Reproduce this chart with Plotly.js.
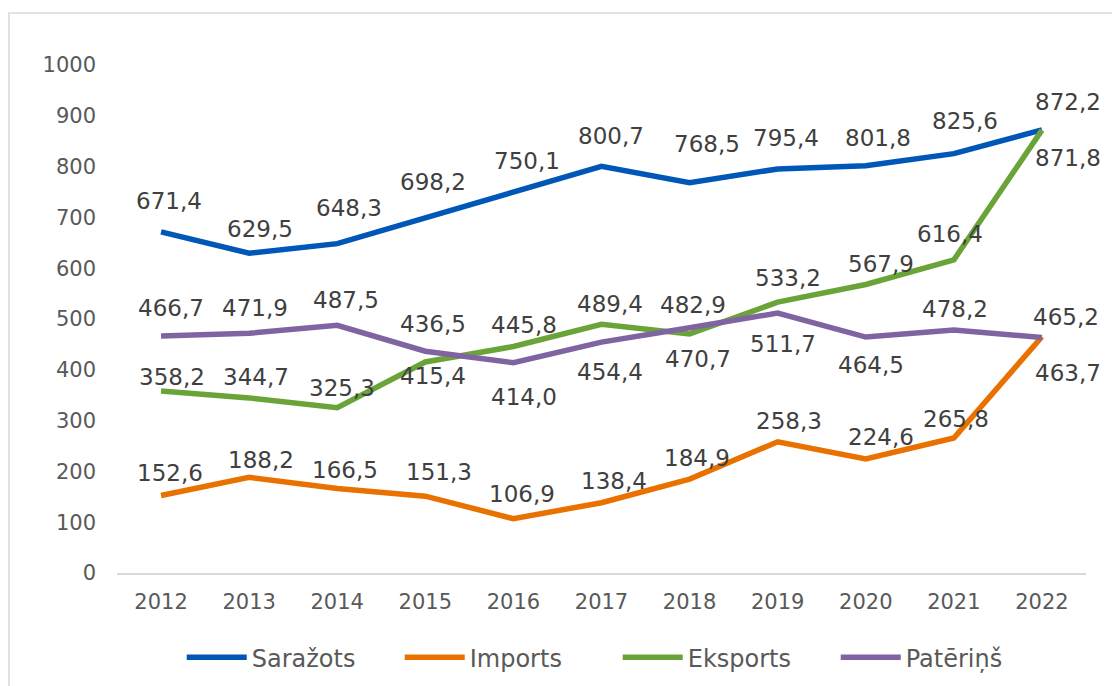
<!DOCTYPE html>
<html>
<head>
<meta charset="utf-8">
<script src="https://cdn.plot.ly/plotly-3.0.1.min.js"></script>
<style>
  html, body { margin: 0; padding: 0; background: #ffffff; }
  #chart { width: 1112px; height: 686px; }
</style>
</head>
<body>
<div id="chart"></div>
<script>
// ---- data ----
var years = ['2012', '2013', '2014', '2015', '2016', '2017', '2018', '2019', '2020', '2021', '2022'];
var sarazots = [671.4, 629.5, 648.3, 698.2, 750.1, 800.7, 768.5, 795.4, 801.8, 825.6, 872.2];
var imports  = [152.6, 188.2, 166.5, 151.3, 106.9, 138.4, 184.9, 258.3, 224.6, 265.8, 465.2];
var eksports = [358.2, 344.7, 325.3, 415.4, 445.8, 489.4, 470.7, 533.2, 567.9, 616.4, 871.8];
var paterins = [466.7, 471.9, 487.5, 436.5, 414.0, 454.4, 482.9, 511.7, 464.5, 478.2, 463.7];
var seriesNames = ['Saražots', 'Imports', 'Eksports', 'Patēriņš'];
var yTickVals = [0, 100, 200, 300, 400, 500, 600, 700, 800, 900, 1000];

// ---- label placement (pixel offsets from each point; positive dy = down) ----
var sarazotsDx = [8, 11, 12, 8, 14, 9, 17, 8, 12, 11, 26];
var sarazotsDy = [-31, -24, -36, -36, -31, -30, -39, -31, -28, -33, -28];
var importsDx  = [9, 12, 8, 14, 9, 12, 7, 11, 15, 2, 24];
var importsDy  = [-22, -17, -18, -24, -25, -22, -21, -21, -22, -19, -20];
var eksportsDx = [11, 7, 5, 8, 11, 8, 8, 10, 15, -4, 26];
var eksportsDy = [-14, -21, -20, 14, -22, -20, 25, -24, -21, -26, 28];
var paterinsDx = [10, 6, 9, 8, 11, 8, 3, 5, 5, 1, 26];
var paterinsDy = [-28, -25, -25, -27, 34, 30, -23, 31, 28, -21, 36];

// ---- styles ----
var colors = ['#0057B8', '#E97100', '#6AA438', '#8064A2'];
var FONT = 'DejaVu Sans';

var seriesVals = [sarazots, imports, eksports, paterins];
var seriesDx = [sarazotsDx, importsDx, eksportsDx, paterinsDx];
var seriesDy = [sarazotsDy, importsDy, eksportsDy, paterinsDy];

function fmt(v) { return v.toFixed(1).replace('.', ','); }

var traces = seriesVals.map(function (vals, k) {
  return {
    type: 'scatter',
    mode: 'lines',
    name: seriesNames[k],
    x: years,
    y: vals,
    line: { color: colors[k], width: 5.5 }
  };
});

var annotations = [];
seriesVals.forEach(function (vals, k) {
  vals.forEach(function (v, i) {
    annotations.push({
      x: i, y: v, xref: 'x', yref: 'y',
      text: fmt(v), showarrow: false,
      xanchor: 'center', yanchor: 'middle',
      xshift: seriesDx[k][i], yshift: -seriesDy[k][i],
      font: { family: FONT, size: 23, color: '#404040' }
    });
  });
});

var layout = {
  width: 1112, height: 686,
  margin: { l: 117, r: 26, t: 65, b: 113, pad: 0, autoexpand: false },
  paper_bgcolor: '#ffffff', plot_bgcolor: 'rgba(0,0,0,0)',
  font: { family: FONT, color: '#595959' },
  showlegend: true,
  legend: {
    orientation: 'h',
    x: 0.0668, xanchor: 'left',
    y: -0.1667, yanchor: 'middle',
    font: { family: FONT, size: 24, color: '#595959' },
    itemwidth: 60,
    entrywidth: 143, entrywidthmode: 'pixels',
    bgcolor: 'rgba(0,0,0,0)'
  },
  xaxis: {
    type: 'category',
    range: [-0.5, 10.5],
    showgrid: false, zeroline: false,
    showline: true, linecolor: '#D9D9D9', linewidth: 2,
    ticks: '', ticklabelstandoff: 9,
    tickfont: { family: FONT, size: 21, color: '#595959' },
    fixedrange: true
  },
  yaxis: {
    range: [0, 1000],
    tickvals: yTickVals,
    ticktext: yTickVals.map(String),
    showgrid: false, zeroline: false, showline: false,
    ticks: '', ticklabelstandoff: 20,
    tickfont: { family: FONT, size: 21, color: '#595959' },
    fixedrange: true
  },
  annotations: annotations,
  shapes: [{
    type: 'rect', xref: 'paper', yref: 'paper',
    x0: -0.1115, x1: 1.2, y0: -0.4, y1: 1.1025,
    line: { color: '#D9D9D9', width: 1.5 },
    fillcolor: 'rgba(0,0,0,0)', layer: 'below'
  }]
};

Plotly.newPlot('chart', traces, layout, { displayModeBar: false });
</script>
</body>
</html>
